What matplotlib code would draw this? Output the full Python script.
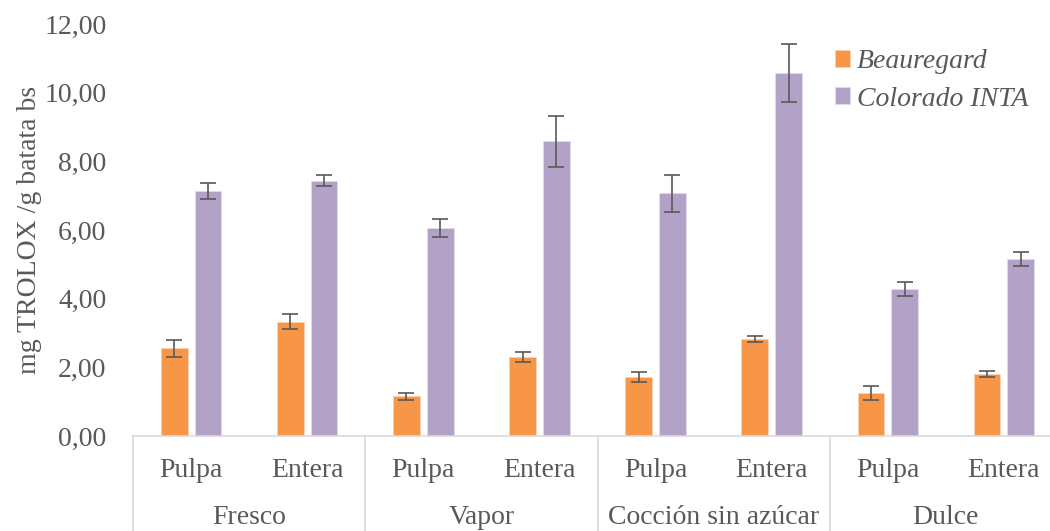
import numpy as np
import matplotlib
matplotlib.use("Agg")
import matplotlib.pyplot as plt
import matplotlib.transforms as mtransforms

# data
groups = ["Fresco", "Vapor", "Cocción sin azúcar", "Dulce"]
parts = ["Pulpa", "Entera"]
beauregard = [2.56, 3.33, 1.16, 2.30, 1.71, 2.82, 1.25, 1.81]
beauregard_err = [0.25, 0.22, 0.10, 0.14, 0.14, 0.09, 0.20, 0.09]
colorado = [7.14, 7.44, 6.06, 8.58, 7.07, 10.57, 4.29, 5.15]
colorado_err = [0.23, 0.17, 0.26, 0.74, 0.54, 0.84, 0.21, 0.21]
yticks = [0, 2, 4, 6, 8, 10, 12]

plt.rcParams['font.family'] = ['Liberation Serif', 'DejaVu Serif']
txt = '#595959'
grid_c = '#D9D9D9'
fs = 20

fig = plt.figure(figsize=(10.5, 5.31), dpi=100)
ax = fig.add_axes([133 / 1050, 95 / 531, 929 / 1050, 412 / 531])

x = np.arange(len(beauregard))
w = 0.23
off = 0.145
ekw = dict(ecolor='#595959', elinewidth=1.2, capsize=6, capthick=1.2)
ax.bar(x - off, beauregard, w, yerr=beauregard_err, color='#F79646',
       edgecolor='#FAD2B4', linewidth=0.6, label='Beauregard', error_kw=ekw)
ax.bar(x + off, colorado, w, yerr=colorado_err, color='#B3A2C7',
       edgecolor='#E2DBEA', linewidth=0.6, label='Colorado INTA', error_kw=ekw)

ax.set_xlim(-0.5, 7.5)
ax.set_ylim(0, 12)
ax.set_yticks(yticks)
ax.set_yticklabels(['%d,00' % v for v in yticks], color=txt, fontsize=fs)
ax.tick_params(axis='y', length=0, pad=19)
ax.set_xticks([])
for s in ['top', 'right', 'left']:
    ax.spines[s].set_visible(False)
ax.spines['bottom'].set_color(grid_c)
ax.spines['bottom'].set_linewidth(1.2)

ax.set_ylabel('mg TROLOX /g batata bs', color=txt, fontsize=fs, labelpad=2)

trans = mtransforms.blended_transform_factory(ax.transData, ax.transAxes)
for b in np.arange(-0.5, 8, 2):
    ax.plot([b, b], [0, -0.3], transform=trans, color=grid_c, lw=1.2, clip_on=False)
for i in x:
    ax.text(i, -0.083, parts[i % 2], transform=trans, ha='center', va='center',
            fontsize=fs, color=txt)
for g, name in enumerate(groups):
    ax.text(2 * g + 0.5, -0.197, name, transform=trans, ha='center', va='center',
            fontsize=fs, color=txt)

leg = ax.legend(loc='upper left', bbox_to_anchor=(810 / 1050, 1 - 24 / 531),
                bbox_transform=fig.transFigure, frameon=False,
                prop={'style': 'italic', 'size': fs}, handlelength=0.55,
                handleheight=0.55, handletextpad=0.25, labelspacing=0.45)
for t in leg.get_texts():
    t.set_color(txt)

fig.savefig('out.png', dpi=100)
